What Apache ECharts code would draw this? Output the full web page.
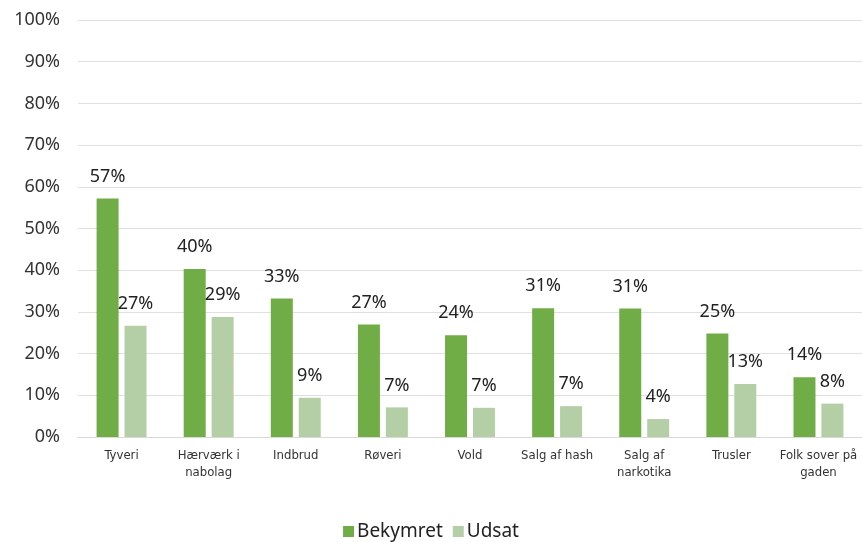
<!DOCTYPE html>
<html>
<head>
<meta charset="utf-8">
<script src="https://cdn.jsdelivr.net/npm/echarts@6/dist/echarts.min.js"></script>
<style>
html,body{margin:0;padding:0;background:#fff;}
#chart{width:862px;height:542px;}
</style>
</head>
<body>
<div id="chart"></div>
<script>
const categories = ['Tyveri', 'Hærværk i\nnabolag', 'Indbrud', 'Røveri', 'Vold', 'Salg af hash', 'Salg af\nnarkotika', 'Trusler', 'Folk sover på\ngaden'];
const bekymret = [57.2, 40.3, 33.2, 27.0, 24.4, 30.9, 30.8, 24.8, 14.3];
const udsat = [26.7, 28.8, 9.4, 7.1, 7.0, 7.4, 4.3, 12.7, 8.0];
const seriesNames = ['Bekymret', 'Udsat'];
const yTicks = [0, 10, 20, 30, 40, 50, 60, 70, 80, 90, 100];

const mainFont = "'Noto Sans', 'Open Sans', sans-serif";
const narrowFont = "'Liberation Sans Narrow', 'DejaVu Sans Condensed', 'Roboto Condensed', 'Liberation Sans', sans-serif";

const chart = echarts.init(document.getElementById('chart'), null, {renderer: 'canvas'});
const labelCfg = {
  show: true,
  position: 'top',
  distance: 13,
  fontSize: 18,
  fontFamily: mainFont,
  color: '#222',
  formatter: p => Math.round(p.value) + '%'
};
chart.setOption({
  animation: false,
  grid: {left: 78, right: 0, top: 20, bottom: 105, containLabel: false},
  legend: {
    bottom: -4,
    left: 'center',
    itemWidth: 11,
    itemHeight: 11,
    itemGap: 10,
    icon: 'rect',
    textStyle: {fontSize: 19, fontFamily: mainFont, color: '#222', padding: [0, 0, 0, -2]},
    data: seriesNames
  },
  xAxis: {
    type: 'category',
    data: categories,
    axisLine: {show: true, lineStyle: {color: '#d9d9d9', width: 1}},
    axisTick: {show: false},
    axisLabel: {
      interval: 0,
      margin: 10,
      fontSize: 13,
      lineHeight: 17,
      fontFamily: narrowFont,
      color: '#333'
    }
  },
  yAxis: {
    type: 'value',
    min: yTicks[0],
    max: yTicks[yTicks.length - 1],
    interval: 10,
    axisLine: {show: false},
    axisTick: {show: false},
    splitLine: {lineStyle: {color: '#e0e0e0', width: 1}},
    axisLabel: {
      margin: 18,
      fontSize: 18,
      fontFamily: mainFont,
      color: '#333',
      formatter: v => v + '%'
    }
  },
  series: [
    {
      name: seriesNames[0],
      type: 'bar',
      data: bekymret,
      barWidth: 22,
      barGap: '27%',
      itemStyle: {color: '#70AD47'},
      label: labelCfg
    },
    {
      name: seriesNames[1],
      type: 'bar',
      data: udsat,
      barWidth: 22,
      barGap: '27%',
      itemStyle: {color: '#B4CFA6'},
      label: labelCfg
    }
  ]
});
</script>
</body>
</html>
